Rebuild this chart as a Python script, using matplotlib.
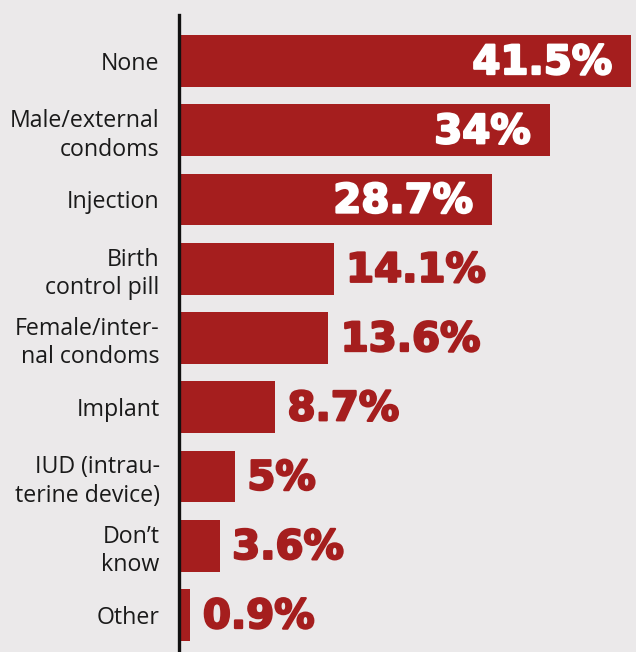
import matplotlib
matplotlib.use("Agg")
import matplotlib.pyplot as plt
import matplotlib.patheffects as pe

categories = ["None", "Male/external\ncondoms", "Injection", "Birth\ncontrol pill",
              "Female/inter-\nnal condoms", "Implant", "IUD (intrau-\nterine device)",
              "Don\u2019t\nknow", "Other"]
values = [41.5, 34, 28.7, 14.1, 13.6, 8.7, 5, 3.6, 0.9]
value_labels = ["41.5%", "34%", "28.7%", "14.1%", "13.6%", "8.7%", "5%", "3.6%", "0.9%"]
inside = [True, True, True, False, False, False, False, False, False]

BG = "#ebe9ea"
RED = "#a51e1e"

W, H = 636, 652
fig = plt.figure(figsize=(W / 100, H / 100), dpi=100, facecolor=BG)
ax_left = 179 / W
ax_top = 15 / H
ax = fig.add_axes([ax_left, 0, 1 - ax_left, 1 - ax_top])
ax.set_facecolor(BG)

y = list(range(len(categories)))
ax.barh(y, values, height=0.75, color=RED, left=0.15)

px_per_unit = 10.85
ax.set_xlim(0, (W - 179) / px_per_unit)
span = (H - 15) / 69.25
ax.set_ylim(-0.664 + span, -0.664)

for s in ["top", "right", "bottom"]:
    ax.spines[s].set_visible(False)
ax.spines["left"].set_linewidth(2.4)
ax.spines["left"].set_color("#111111")
ax.set_xticks([])
ax.set_yticks(y)
ax.set_yticklabels(categories, fontsize=16.7, family="Open Sans", color="#1a1a1a",
                   linespacing=1.25)
ax.tick_params(axis="y", length=0, pad=14)

for yi, v, lab, ins in zip(y, values, value_labels, inside):
    col = "white" if ins else RED
    x = v - 1.6 if ins else v + 1.3
    ax.text(x, yi + 0.03, lab, ha="right" if ins else "left", va="center", color=col,
            fontsize=29, family="DejaVu Sans", fontweight="bold",
            path_effects=[pe.withStroke(linewidth=1.6, foreground=col)])

fig.savefig("out.png", dpi=100, facecolor=BG)
